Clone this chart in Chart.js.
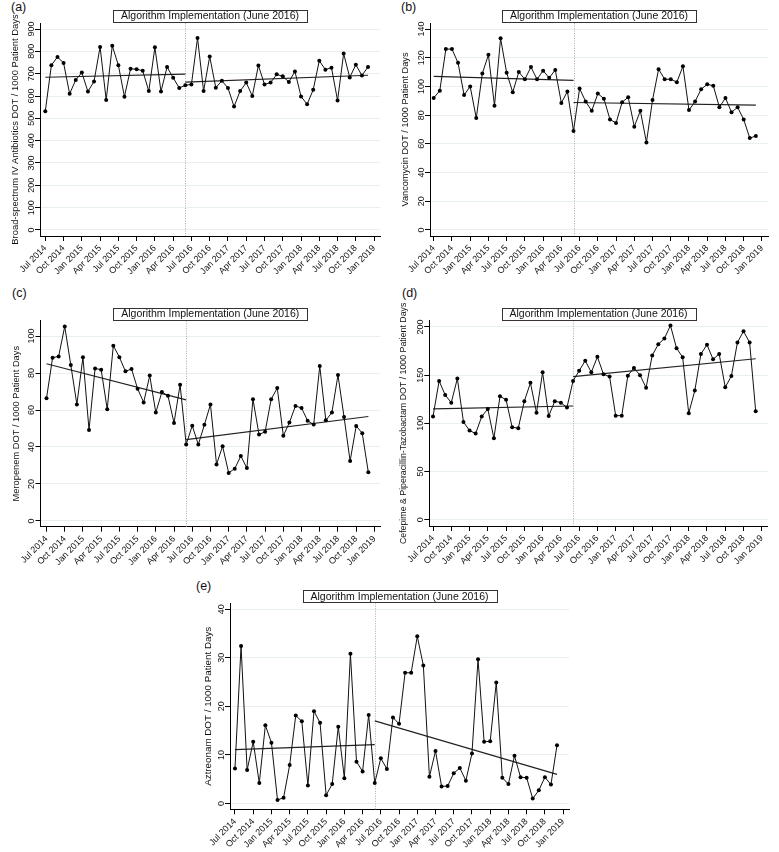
<!DOCTYPE html>
<html>
<head>
<meta charset="utf-8">
<script src="https://cdn.jsdelivr.net/npm/chart.js@4.4.1/dist/chart.umd.min.js"></script>
<style>
  body { margin: 0; background: #fff; }
  #wrap { position: relative; width: 779px; height: 852px; overflow: hidden; font-family: "Liberation Sans", Arial, sans-serif; }
  canvas { position: absolute; }
  .tag { position: absolute; font-size: 12.5px; line-height: 14px; color: #111; }
</style>
</head>
<body>
<div id="wrap">
  <div class="tag" style="left:11px;top:0px">(a)</div>
  <div class="tag" style="left:401px;top:0px">(b)</div>
  <div class="tag" style="left:12px;top:286px">(c)</div>
  <div class="tag" style="left:402px;top:286px">(d)</div>
  <div class="tag" style="left:196px;top:579px">(e)</div>
  <canvas id="cA" width="390" height="280" style="left:0;top:0"></canvas>
  <canvas id="cB" width="389" height="280" style="left:390px;top:0"></canvas>
  <canvas id="cC" width="390" height="290" style="left:0;top:280px"></canvas>
  <canvas id="cD" width="389" height="290" style="left:390px;top:280px"></canvas>
  <canvas id="cE" width="420" height="292" style="left:180px;top:560px"></canvas>
</div>
<script>
// x tick labels, one every 3 months from Jul 2014 (month index 0) to Jan 2019 (index 54)
var tickLabels = ["Jul 2014", "Oct 2014", "Jan 2015", "Apr 2015", "Jul 2015", "Oct 2015", "Jan 2016",
  "Apr 2016", "Jul 2016", "Oct 2016", "Jan 2017", "Apr 2017", "Jul 2017", "Oct 2017", "Jan 2018",
  "Apr 2018", "Jul 2018", "Oct 2018", "Jan 2019"];
var breakMonth = 23; // June 2016

// monthly DOT / 1000 patient days, Jul 2014 - Dec 2018
var broadSpectrum = [532, 738, 775, 748, 610, 672, 705, 620, 665, 820, 582, 825, 738, 597, 722, 720, 713, 622,
  818, 620, 730, 682, 636, 648, 652, 860, 622, 777, 637, 668, 636, 553, 622, 660, 600, 737, 652, 660, 697, 688,
  663, 710, 598, 563, 628, 758, 718, 727, 580, 790, 683, 740, 692, 730];
var vancomycin = [92, 97, 126, 126, 116.5, 94, 100, 78, 109, 122, 86.5, 133.5, 109.5, 96, 110, 105, 113.5, 105,
  111, 106, 111.5, 88.5, 96.5, 69, 98.5, 89.5, 83, 95, 91.5, 77, 74.5, 89, 92.5, 72, 83, 61, 90.5, 112, 105, 105,
  103, 114, 83.5, 89.5, 98, 101.5, 100.5, 85.5, 92, 82, 85.5, 77, 64, 65.5];
var meropenem = [66.3, 88.3, 89, 105.2, 84.3, 63, 88.5, 49.2, 82.5, 81.8, 60.4, 94.8, 88.6, 80.9, 82.2, 71.5,
  64.1, 78.6, 58.6, 69.7, 67.7, 53, 73.7, 41.4, 51.5, 41.3, 52, 63, 30.6, 40.4, 26, 28.3, 35.1, 28.6, 65.8, 46.7,
  48.3, 65.8, 71.9, 46.1, 53.2, 62.2, 61.1, 54.2, 52.1, 83.8, 54.4, 58.7, 78.9, 56.2, 32.4, 51.4, 47.4, 26.3];
var cefepimePipTazo = [107, 144, 129.5, 121.5, 146.5, 101.5, 92.5, 89.5, 107, 115, 84.5, 128, 124.5, 96, 95, 123,
  142, 111, 153, 107.5, 123, 121.5, 116.5, 144, 154.5, 165, 153, 169, 151, 148.5, 108, 108, 149.5, 157.5, 150, 137,
  170.5, 182, 188, 201.5, 178, 168.5, 110.5, 134, 172, 181.5, 166.5, 172, 137.5, 149, 184, 195.5, 184, 112.5];
var aztreonam = [7.2, 32.4, 6.9, 12.7, 4.2, 16.1, 12.5, 0.7, 1.2, 7.9, 18.1, 16.9, 3.7, 19, 16.6, 1.7, 4, 15.8,
  5.2, 30.8, 8.6, 6.6, 18.2, 4.2, 9.3, 7.1, 17.7, 16.4, 26.9, 26.9, 34.4, 28.4, 5.5, 10.8, 3.5, 3.6, 6.2, 7.3, 4.7,
  10.3, 29.7, 12.7, 12.8, 24.9, 5.3, 4, 9.8, 5.4, 5.3, 1, 2.7, 5.4, 3.9, 12];

// fitted segments: [pre start, pre end], [post start, post end]
var broadTrend = [[684, 698], [662, 693]];
var vancoTrend = [[107, 104.2], [88.8, 87]];
var meroTrend = [[85, 65.5], [44, 56.5]];
var cefeTrend = [[115, 118], [148.5, 167]];
var aztreTrend = [[11.1, 12.1], [17, 6]];

var yTicksA = [0, 100, 200, 300, 400, 500, 600, 700, 800, 900];
var yTicksB = [0, 20, 40, 60, 80, 100, 120, 140];
var yTicksC = [0, 20, 40, 60, 80, 100];
var yTicksD = [0, 50, 100, 150, 200];
var yTicksE = [0, 10, 20, 30, 40];

var FONT = "'Liberation Sans', Arial, sans-serif";
Chart.defaults.font.family = FONT;
Chart.defaults.color = "#111";

var decor = {
  id: "decor",
  beforeDatasetsDraw: function(chart) {
    var o = chart.options.plugins.decor, a = chart.chartArea, ctx = chart.ctx;
    var x = chart.scales.x.getPixelForValue(o.brk);
    ctx.save();
    ctx.strokeStyle = "#aaa";
    ctx.lineWidth = 1;
    ctx.setLineDash([1, 1.5]);
    ctx.beginPath();
    ctx.moveTo(Math.round(x) + 0.5, a.top);
    ctx.lineTo(Math.round(x) + 0.5, a.bottom);
    ctx.stroke();
    ctx.restore();
  },
  afterDraw: function(chart) {
    var o = chart.options.plugins.decor, a = chart.chartArea, ctx = chart.ctx;
    var ys = chart.scales.y;
    ctx.save();
    // boxed caption
    var cx = (a.left + a.right) / 2, bw = 194, bh = 13;
    ctx.fillStyle = "#fff";
    ctx.fillRect(cx - bw / 2, a.top - bh, bw, bh);
    ctx.strokeStyle = "#333";
    ctx.lineWidth = 1;
    ctx.strokeRect(Math.round(cx - bw / 2) + 0.5, Math.round(a.top - bh) + 0.5, bw, bh - 1);
    ctx.fillStyle = "#111";
    ctx.font = "10.5px " + FONT;
    ctx.textAlign = "center";
    ctx.textBaseline = "middle";
    ctx.fillText(o.caption, cx, a.top - bh / 2);
    // rotated y tick labels
    ctx.font = "9px " + FONT;
    o.yTicks.forEach(function(v) {
      ctx.save();
      ctx.translate(a.left - 8.5, ys.getPixelForValue(v));
      ctx.rotate(-Math.PI / 2);
      ctx.fillText(String(v), 0, 0);
      ctx.restore();
    });
    // y axis title
    ctx.font = o.titleSize + "px " + FONT;
    ctx.translate(a.left - o.titleGap, (a.top + a.bottom) / 2);
    ctx.rotate(-Math.PI / 2);
    ctx.fillText(o.yTitle, 0, 0);
    ctx.restore();
  }
};

function makePanel(id, geo, values, trend, yTicks, yTitle) {
  var cv = document.getElementById(id);
  var W = cv.width, H = cv.height;
  var line = values.map(function(v, i) { return { x: i, y: v }; });
  var last = values.length - 1;
  new Chart(cv, {
    type: "line",
    data: {
      datasets: [{
        data: line,
        borderColor: "#111",
        borderWidth: 1,
        pointRadius: 2,
        pointBackgroundColor: "#000",
        pointBorderWidth: 0,
        tension: 0
      }, {
        data: [{ x: 0, y: trend[0][0] }, { x: breakMonth, y: trend[0][1] }],
        borderColor: "#222",
        borderWidth: 1.2,
        pointRadius: 0
      }, {
        data: [{ x: breakMonth, y: trend[1][0] }, { x: last, y: trend[1][1] }],
        borderColor: "#222",
        borderWidth: 1.2,
        pointRadius: 0
      }]
    },
    options: {
      responsive: false,
      animation: false,
      layout: { padding: { top: geo.top, right: W - geo.right, bottom: 0, left: 0 } },
      plugins: {
        legend: { display: false },
        tooltip: { enabled: false },
        decor: { brk: breakMonth, caption: "Algorithm Implementation (June 2016)", yTicks: yTicks, yTitle: yTitle,
          titleGap: geo.gap, titleSize: geo.tsize }
      },
      scales: {
        x: {
          type: "linear",
          min: geo.xmin,
          max: geo.xmax,
          afterBuildTicks: function(s) {
            s.ticks = tickLabels.map(function(t, k) { return { value: k * 3 }; });
          },
          afterFit: function(s) { s.height = H - geo.bottom; },
          ticks: {
            autoSkip: false,
            minRotation: 45,
            maxRotation: 45,
            padding: 2,
            font: { size: 9 },
            color: "#111",
            callback: function(v) { return tickLabels[Math.round(v / 3)]; }
          },
          grid: { drawOnChartArea: false, drawTicks: true, tickLength: 5, color: "#000", tickColor: "#000" },
          border: { color: "#000", width: 1 }
        },
        y: {
          min: geo.ymin,
          max: geo.ymax,
          afterBuildTicks: function(s) {
            s.ticks = yTicks.map(function(v) { return { value: v }; });
          },
          afterFit: function(s) { s.width = geo.left; },
          ticks: { display: false },
          grid: { color: "#e8eff1", lineWidth: 1, drawTicks: true, tickLength: 5, tickColor: "#000" },
          border: { color: "#000", width: 1 }
        }
      }
    },
    plugins: [decor]
  });
}

makePanel("cA", { left: 40, right: 380, top: 23, bottom: 236, xmin: -0.87, xmax: 54.97, ymin: -27, ymax: 927, gap: 25, tsize: 9.4 },
  broadSpectrum, broadTrend, yTicksA, "Broad-spectrum IV Antibiotics DOT / 1000 Patient Days");
makePanel("cB", { left: 40, right: 378, top: 23, bottom: 236, xmin: -0.61, xmax: 55, ymin: -4.2, ymax: 144.2, gap: 25, tsize: 9.2 },
  vancomycin, vancoTrend, yTicksB, "Vancomycin DOT / 1000 Patient Days");
makePanel("cC", { left: 40.5, right: 380, top: 40.7, bottom: 246.7, xmin: -0.99, xmax: 54.92, ymin: -3.1, ymax: 108.3, gap: 24, tsize: 9.3 },
  meropenem, meroTrend, yTicksC, "Meropenem DOT / 1000 Patient Days");
makePanel("cD", { left: 39.3, right: 377.7, top: 40.7, bottom: 246, xmin: -0.61, xmax: 54.97, ymin: -6.5, ymax: 206.5, gap: 26, tsize: 8.8 },
  cefepimePipTazo, cefeTrend, yTicksD, "Cefepime & Piperacillin-Tazobactam DOT / 1000 Patient Days");
makePanel("cE", { left: 50, right: 389, top: 43.3, bottom: 249.3, xmin: -0.82, xmax: 54.97, ymin: -1.2, ymax: 41.2, gap: 22, tsize: 9.8 },
  aztreonam, aztreTrend, yTicksE, "Aztreonam DOT / 1000 Patient Days");
</script>
</body>
</html>
